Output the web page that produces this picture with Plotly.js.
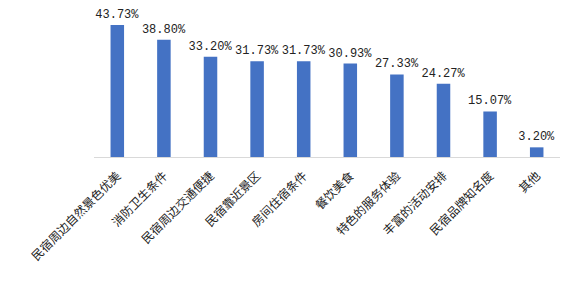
<!DOCTYPE html>
<html><head><meta charset="utf-8">
<script src="https://cdn.plot.ly/plotly-3.0.1.min.js"></script>
<style>html,body{margin:0;padding:0;background:#fff}</style>
</head><body><div id="chart" style="width:576px;height:287px"></div>
<script>
const categories = ["民宿周边自然景色优美","消防卫生条件","民宿周边交通便捷","民宿靠近景区","房间住宿条件","餐饮美食","特色的服务体验","丰富的活动安排","民宿品牌知名度","其他"];
const values = [43.73,38.80,33.20,31.73,31.73,30.93,27.33,24.27,15.07,3.20];
const labels = values.map(v => v.toFixed(2) + "%");
Plotly.newPlot("chart", [{
  type: "bar", x: categories, y: values, text: labels,
  textposition: "outside", cliponaxis: false, constraintext: "none",
  textfont: {family: "Liberation Mono, DejaVu Sans Mono", size: 12, color: "#222"},
  marker: {color: "#4472C4"}, hoverinfo: "none"
}], {
  width: 576, height: 287,
  margin: {l: 94, r: 16, t: 6, b: 130},
  bargap: 0.71,
  showlegend: false,
  paper_bgcolor: "#fff", plot_bgcolor: "#fff",
  xaxis: {tickangle: -45, showline: true, linecolor: "#d9d9d9", linewidth: 1,
          ticks: "", ticklabelstandoff: 6,
          tickfont: {family: "Noto Sans CJK SC", size: 12, color: "#222"}},
  yaxis: {range: [0, 50], visible: false, showgrid: false, zeroline: false}
}, {displayModeBar: false, staticPlot: true});
</script></body></html>
